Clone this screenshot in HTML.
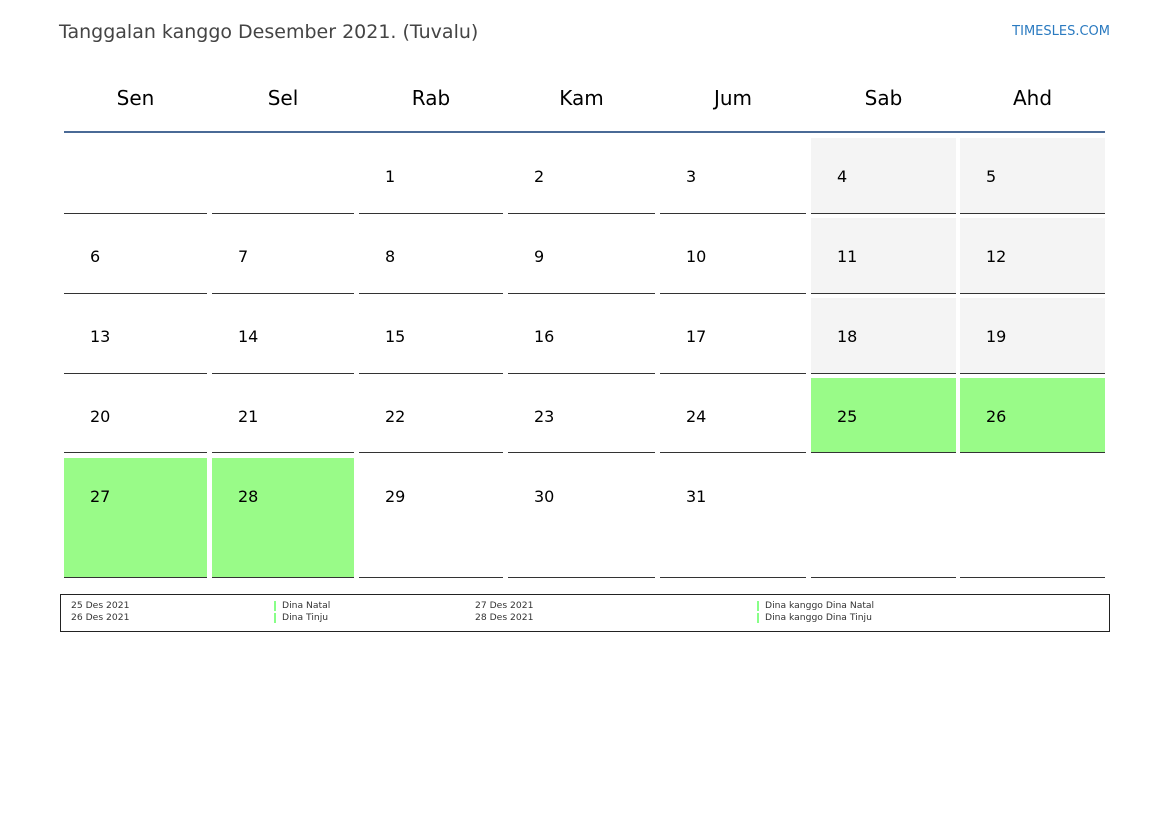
<!DOCTYPE html>
<html><head><meta charset="utf-8"><style>
body{margin:0;width:1169px;height:827px;background:#fff;font-family:"DejaVu Sans","Liberation Sans",sans-serif;position:relative;overflow:hidden}
div{position:absolute}
.t{left:59px;top:21px;font-size:19px;color:#444}
.w{right:59px;top:24px;font-size:13px;color:#2a7ac0}
.h{top:86px;font-size:20px;color:#000;text-align:center}
.c{border-bottom:1px solid #333}
.n{font-size:16px;color:#000}
.l{font-size:9.2px;color:#333;line-height:12px}
.b{width:2px;height:10px;background:#8f8}
</style></head><body>
<div class="t">Tanggalan kanggo Desember 2021. (Tuvalu)</div>
<div class="w">TIMESLES.COM</div>
<div style="left:64px;top:131px;width:1041px;height:2px;background:#4a6a96"></div>
<div id="g"></div>
<script>
var cols=[[64,207],[212,354],[359,503],[508,655],[660,806],[811,956],[960,1105]];
var names=["Sen","Sel","Rab","Kam","Jum","Sab","Ahd"];
var rows=[[138,213],[218,293],[298,373],[378,452],[458,577]];
var h="";
cols.forEach(function(c,i){h+='<div class="h" style="left:'+c[0]+'px;width:'+(c[1]-c[0])+'px">'+names[i]+'</div>';});
var green={25:1,26:1,27:1,28:1};
for(var r=0;r<5;r++)for(var i=0;i<7;i++){
 var d=r*7+i-1;var c=cols[i],ro=rows[r];
 var bg="transparent";
 if(d>=1&&d<=31&&green[d])bg="#99fb88";else if(i>=5&&d>=1&&d<=31)bg="#f4f4f4";
 h+='<div class="c" style="left:'+c[0]+'px;top:'+ro[0]+'px;width:'+(c[1]-c[0])+'px;height:'+(ro[1]-ro[0])+'px;background:'+bg+'"></div>';
 if(d>=1&&d<=31)h+='<div class="n" style="left:'+(c[0]+26)+'px;top:'+(ro[0]+29)+'px">'+d+'</div>';
}
document.getElementById("g").outerHTML=h;
</script>
<div style="left:60px;top:594px;width:1048px;height:36px;border:1px solid #222"></div>
<div class="l" style="left:71px;top:600px">25 Des 2021<br>26 Des 2021</div>
<div class="b" style="left:274px;top:601px"></div><div class="b" style="left:274px;top:613px"></div>
<div class="l" style="left:282px;top:600px">Dina Natal<br>Dina Tinju</div>
<div class="l" style="left:475px;top:600px">27 Des 2021<br>28 Des 2021</div>
<div class="b" style="left:757px;top:601px"></div><div class="b" style="left:757px;top:613px"></div>
<div class="l" style="left:765px;top:600px">Dina kanggo Dina Natal<br>Dina kanggo Dina Tinju</div>
</body></html>
